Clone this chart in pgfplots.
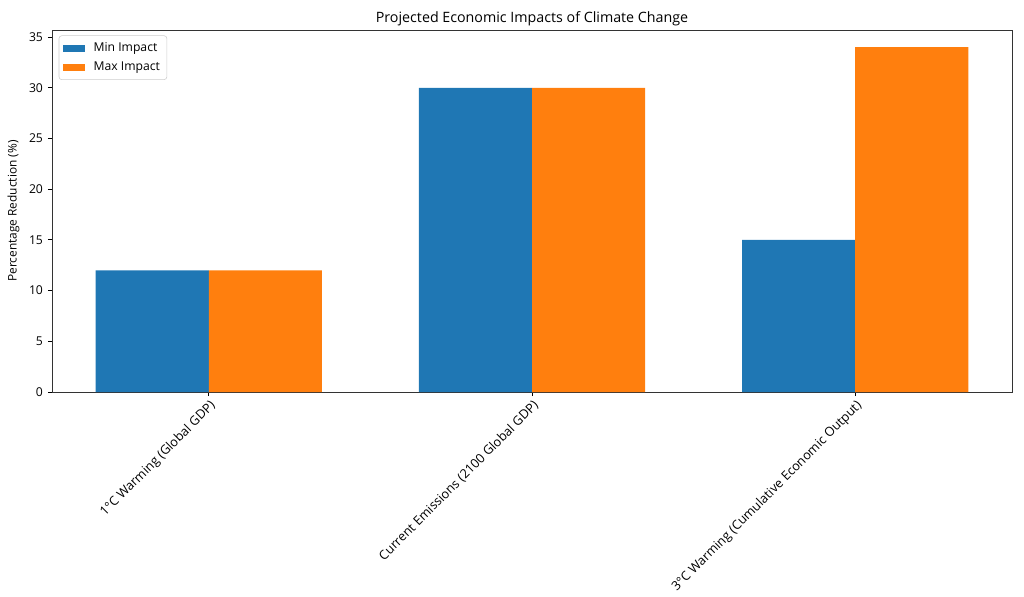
\documentclass[border=0pt]{standalone}
\usepackage{fontspec}
\setmainfont{Open Sans}
\usepackage{pgfplots}
\pgfplotsset{compat=1.18}
\definecolor{mplblue}{HTML}{1F77B4}
\definecolor{mplorange}{HTML}{FF7F0E}
\newcommand{\lblfont}{\fontsize{8.8}{10}\selectfont}
\newcommand{\xlblfont}{\fontsize{9.2}{11}\selectfont}
\begin{document}
\begin{tikzpicture}
\useasboundingbox (-0.52in,-2.05in) rectangle (9.72in,3.92in);
\begin{axis}[
    at={(0,0)}, anchor=south west,
    scale only axis,
    width=9.6in, height=3.62in,
    xmin=-0.485, xmax=2.485,
    ymin=0, ymax=35.7,
    ybar, bar width=0.35,
    xtick={0,1,2},
    xticklabels={1°C Warming (Global GDP), Current Emissions (2100 Global GDP), 3°C Warming (Cumulative Economic Output)},
    x tick label style={rotate=45, anchor=north east, font=\xlblfont, inner sep=1.5pt},
    ytick={0,5,...,35},
    y tick label style={font=\lblfont},
    /pgf/number format/assume math mode=true,
    tick align=outside, tick pos=left,
    major tick length=3pt,
    tick style={black, line width=0.6pt},
    axis line style={line width=0.6pt, black!80},
    title={Projected Economic Impacts of Climate Change},
    title style={font=\fontsize{10.3}{12}\selectfont, yshift=-6.5pt},
    ylabel={Percentage Reduction (\%)},
    ylabel style={font=\fontsize{8.6}{10}\selectfont},
    legend style={at={(0.007,0.985)}, anchor=north west, draw=black!20, rounded corners=2pt,
        font=\lblfont, cells={anchor=west}, row sep=2pt, inner sep=3pt},
]
\addplot[fill=mplblue, draw=none, bar shift=-0.175,
    legend image code/.code={\fill[mplblue, sharp corners] (0pt,-3pt) rectangle (16pt,2.5pt);}]
    coordinates {(0,12) (1,30) (2,15)};
\addplot[fill=mplorange, draw=none, bar shift=0.175,
    legend image code/.code={\fill[mplorange, sharp corners] (0pt,-3pt) rectangle (16pt,2.5pt);}]
    coordinates {(0,12) (1,30) (2,34)};
\legend{\hspace{4pt}Min Impact, \hspace{4pt}Max Impact}
\end{axis}
\end{tikzpicture}
\end{document}
